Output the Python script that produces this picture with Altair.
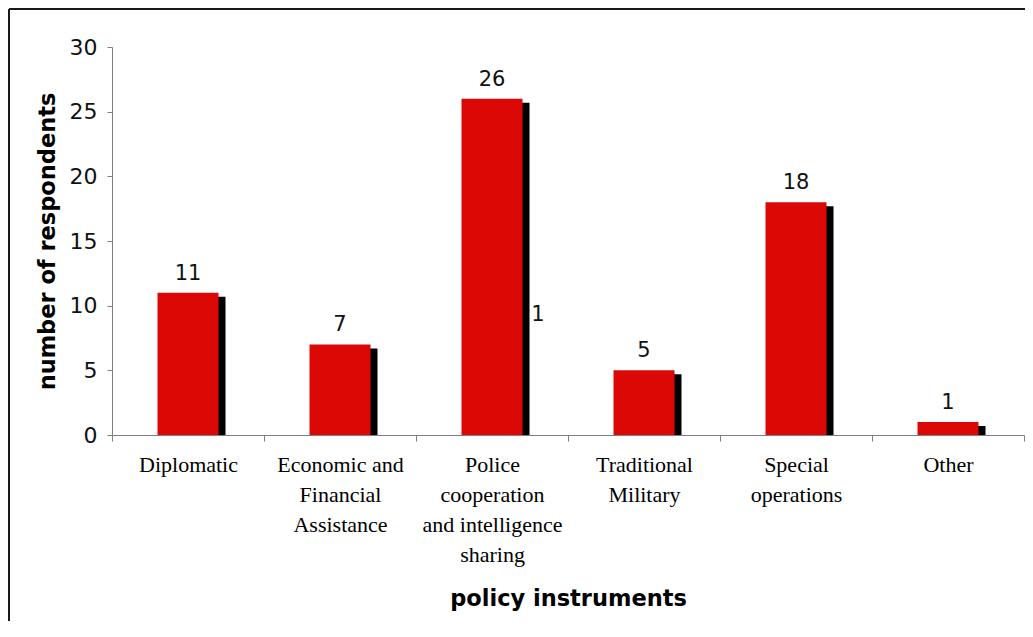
import altair as alt
import pandas as pd

categories = [
    "Diplomatic",
    "Economic and|Financial|Assistance",
    "Police|cooperation|and intelligence|sharing",
    "Traditional|Military",
    "Special|operations",
    "Other",
]
respondents = [11, 7, 26, 5, 18, 1]

# stray label visible in the reference (second-series label inside "Police" group)
stray_category = ["Police|cooperation|and intelligence|sharing"]
stray_text = ["1"]
stray_y = [9.3]

y_ticks = [0, 5, 10, 15, 20, 25, 30]

df = pd.DataFrame({"cat": categories, "n": respondents})
df_stray = pd.DataFrame({"cat": stray_category, "t": stray_text, "y": stray_y})

x_enc = alt.X(
    "cat:N",
    sort=categories,
    scale=alt.Scale(paddingInner=0, paddingOuter=0),
    axis=alt.Axis(
        title="policy instruments",
        labelExpr="isString(datum.value) ? split(datum.value, '|') : ''",
        labelAngle=0,
        labelFont="Liberation Serif",
        labelFontSize=22,
        labelLineHeight=30,
        labelColor="#000000",
        labelPadding=13,
        labelBaseline="top",
        tickBand="extent",
        tickSize=6,
        tickColor="#808080",
        domainColor="#808080",
        titleFont="DejaVu Sans",
        titleFontSize=22.5,
        titleFontWeight="bold",
        titleColor="#000000",
        titlePadding=22,
    ),
)

y_enc = alt.Y(
    "n:Q",
    scale=alt.Scale(domain=[0, 30], nice=False),
    axis=alt.Axis(
        title="number of respondents",
        values=y_ticks,
        grid=False,
        tickSize=5,
        tickColor="#808080",
        domainColor="#808080",
        labelFont="DejaVu Sans",
        labelFontSize=22,
        labelColor="#111111",
        labelPadding=10,
        titleFont="DejaVu Sans",
        titleFontSize=22.5,
        titleFontWeight="bold",
        titleColor="#000000",
        titlePadding=10,
    ),
)

shadow = alt.Chart(df).mark_bar(
    size=61, color="#000000", xOffset=7, yOffset=4, clip=True
).encode(x=x_enc, y=y_enc)
bars = alt.Chart(df).mark_bar(size=61, color="#DC0806").encode(x=x_enc, y=y_enc)
labels = alt.Chart(df).mark_text(
    font="DejaVu Sans", fontSize=21, color="#111111", baseline="alphabetic", dy=-13
).encode(x=alt.X("cat:N", sort=categories), y="n:Q", text="n:Q")
stray = alt.Chart(df_stray).mark_text(
    font="DejaVu Sans", fontSize=21, color="#111111", baseline="middle", dx=46
).encode(x=alt.X("cat:N", sort=categories), y="y:Q", text="t:N")

border_top = alt.Chart(df).mark_rule(color="#1a1a1a", strokeWidth=1.5).encode(
    x=alt.value(-103), x2=alt.value(1000), y=alt.value(-38)
)
border_left = alt.Chart(df).mark_rule(color="#1a1a1a", strokeWidth=1.5).encode(
    x=alt.value(-103), y=alt.value(-38), y2=alt.value(700)
)

chart = (
    alt.layer(shadow, bars, labels, stray, border_top, border_left)
    .properties(
        width=912,
        height=388,
        autosize=alt.AutoSizeParams(type="none"),
        padding={"left": 104, "top": 39, "right": 1, "bottom": 186},
    )
    .configure_view(stroke=None)
    .configure_axis(domainWidth=1, tickWidth=1)
)

chart.save("out.html", embed_options={"renderer": "svg", "actions": False})
